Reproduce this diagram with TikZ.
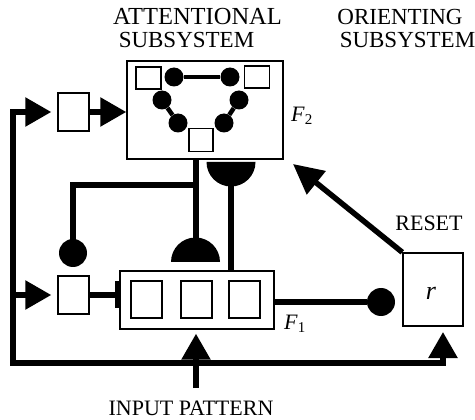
\documentclass[tikz,border=0pt]{standalone}
\usepackage{fontspec}
\setmainfont{Liberation Serif}
\usetikzlibrary{arrows.meta}
\begin{document}
\begin{tikzpicture}[x=1pt,y=-1pt,
  box/.style={draw, line width=1.4pt, inner sep=0pt, fill=white},
  thk/.style={line width=5.5pt},
  thn/.style={line width=4.5pt},
  tri/.style={-{Triangle[length=26pt,width=28pt]}},
  disk/.style={circle, fill=black, inner sep=0pt, minimum size=#1},
  lbl/.style={font=\fontsize{23}{26}\selectfont, inner sep=0pt, anchor=base},
  slbl/.style={font=\fontsize{22}{25}\selectfont, inner sep=0pt, anchor=base},
]
\useasboundingbox (0,0) rectangle (475,420);

% top labels
\node[lbl, font=\fontsize{24.5}{26}\selectfont] (t1) at (197.5,25) {ATTENTIONAL};
\node[lbl] (t2) at (186.5,48) {SUBSYSTEM};
\node[lbl] (t3) at (400,25) {ORIENTING};
\node[lbl] (t4) at (407.5,48) {SUBSYSTEM};

% main boxes
\node[box, minimum width=156pt, minimum height=98pt] (F2) at (205,110) {};
\node[box, minimum width=154pt, minimum height=58pt] (F1) at (197,300) {};
\node[box, minimum width=31pt, minimum height=38pt] (in2) at (73.5,112) {};
\node[box, minimum width=31pt, minimum height=38pt] (in1) at (73.5,295) {};
\node[box, minimum width=60pt, minimum height=73pt] (r) at (433,289.5) {};
\node[inner sep=0pt, anchor=base, font=\fontsize{26}{28}\selectfont\itshape] (rl) at (431,300) {r};

% F2 contents
\node[box, minimum width=25pt, minimum height=22pt] (s1) at (148.5,78) {};
\node[box, minimum width=25pt, minimum height=22pt] (s2) at (257,77) {};
\node[box, minimum width=24pt, minimum height=23pt] (s3) at (201,140) {};
\node[disk=19pt] (a1) at (174,77) {};
\node[disk=19pt] (a2) at (230,77) {};
\node[disk=19pt] (b1) at (162,100) {};
\node[disk=19pt] (b2) at (178,123) {};
\node[disk=19pt] (c1) at (239,100) {};
\node[disk=19pt] (c2) at (224,123) {};
\draw[thn] (a1) -- (a2);
\draw[thn] (b1) -- (b2);
\draw[thn] (c1) -- (c2);

% F1 contents
\node[box, minimum width=31pt, minimum height=37pt] (u1) at (146.5,299.5) {};
\node[box, minimum width=31pt, minimum height=37pt] (u2) at (196.5,299.5) {};
\node[box, minimum width=31pt, minimum height=37pt] (u3) at (244.5,299.5) {};

% labels
\node[inner sep=0pt, anchor=base west, font=\fontsize{22}{24}\selectfont] (f2l) at (291,122) {\textit{F}\raisebox{-0.25ex}{\fontsize{15}{16}\selectfont 2}};
\node[inner sep=0pt, anchor=base west, font=\fontsize{22}{24}\selectfont] (f1l) at (284,330) {\textit{F}\raisebox{-0.25ex}{\fontsize{15}{16}\selectfont 1}};
\node[slbl] (reset) at (429,230) {RESET};
\node[slbl] (inp) at (191,415) {INPUT PATTERN};

% coordinates
\coordinate (bl) at (13,363);
\coordinate (j) at (195.5,185);
\coordinate (hdA) at (195.5,262);
\coordinate (hdAtop) at (195.5,238);
\coordinate (hdB) at (231,162);
\coordinate (ip) at (196,388);
\coordinate (rt) at (293,164);
\coordinate (rin) at (443,326);

% outer loop
\draw[thk, {Triangle[length=26pt,width=28pt]}-{Triangle[length=26pt,width=28pt]},
  shorten <=6pt, shorten >=6pt] (in2.west) -| (bl) -| (rin);
\draw[thk, tri, shorten >=6pt] (bl |- in1) -- (in1.west);
\draw[thk, tri] (in2.east) -- (in2.east -| F2.west);
\draw[thk, -{Rectangle[length=4pt,width=27pt]}] (in1.east) -- (in1.east -| F1.west);

% input
\draw[thk, tri, shorten >=4pt] (ip) -- (ip |- F1.south);

% half discs
\fill (hdA) ++(-24.5,0) arc[start angle=180, end angle=360, radius=24.5] -- cycle;
\fill (hdB) ++(-24.5,0) arc[start angle=180, end angle=0, radius=24.5] -- cycle;
\draw[line width=6pt] (hdA |- F2.south) -- (hdAtop);
\draw[thk] (hdB) -- (hdB |- F1.north);

% disks
\node[disk=28pt] (d2) at (73,253) {};
\node[disk=28pt] (d1) at (381,302) {};
\draw[thk] (d2.center) |- (j);
\draw[thk] (d1 -| F1.east) -- (d1);

% reset
\draw[thk, -{Triangle[length=30pt,width=29pt]}] (r.north west) -- (rt);
\end{tikzpicture}
\end{document}
